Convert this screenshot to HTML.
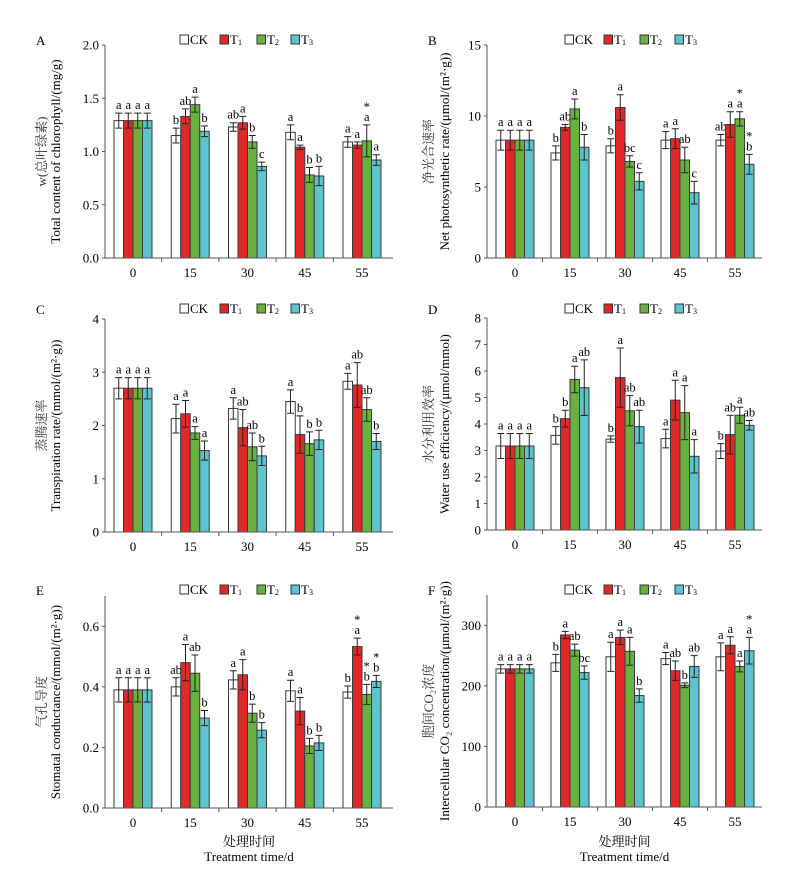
<!DOCTYPE html>
<html><head><meta charset="utf-8">
<style>
body{margin:0;background:#fff;}
svg{display:block;font-family:"Liberation Serif","Noto Serif CJK SC",serif;}
</style></head>
<body>
<svg id="chart" width="810" height="877" viewBox="0 0 810 877" xmlns="http://www.w3.org/2000/svg"></svg>
<script>
const categories = ["0","15","30","45","55"];
const seriesNames = ["CK","T1","T2","T3"];

const A_means = [[1.29,1.15,1.23,1.18,1.09],[1.29,1.33,1.27,1.04,1.06],[1.29,1.44,1.09,0.78,1.10],[1.29,1.19,0.86,0.77,0.92]];
const A_errs  = [[0.07,0.07,0.04,0.07,0.05],[0.07,0.07,0.06,0.02,0.03],[0.07,0.07,0.06,0.07,0.15],[0.07,0.05,0.04,0.09,0.05]];
const A_lets  = [["a","b","ab","a","a"],["a","ab","a","a","a"],["a","a","b","b","*a"],["a","b","c","b","a"]];
const A_ticks = ["0.0","0.5","1.0","1.5","2.0"];

const B_means = [[8.3,7.4,7.9,8.3,8.3],[8.3,9.2,10.6,8.4,9.4],[8.3,10.5,6.8,6.9,9.8],[8.3,7.8,5.4,4.6,6.6]];
const B_errs  = [[0.7,0.5,0.5,0.6,0.4],[0.7,0.2,0.9,0.7,0.9],[0.7,0.7,0.4,0.9,0.5],[0.7,0.9,0.6,0.8,0.7]];
const B_lets  = [["a","b","b","a","ab"],["a","ab","a","a","a"],["a","a","bc","ab","*a"],["a","b","c","c","*b"]];
const B_ticks = ["0","5","10","15"];

const C_means = [[2.7,2.13,2.32,2.45,2.83],[2.7,2.22,1.96,1.83,2.76],[2.7,1.86,1.6,1.66,2.3],[2.7,1.53,1.43,1.73,1.7]];
const C_errs  = [[0.2,0.27,0.2,0.22,0.15],[0.2,0.25,0.34,0.35,0.42],[0.2,0.12,0.26,0.22,0.22],[0.2,0.18,0.18,0.18,0.15]];
const C_lets  = [["a","a","a","a","a"],["a","a","ab","b","ab"],["a","a","ab","b","ab"],["a","a","b","b","b"]];
const C_ticks = ["0","1","2","3","4"];

const D_means = [[3.17,3.57,3.43,3.45,2.98],[3.17,4.2,5.75,4.9,3.6],[3.17,5.68,4.5,4.43,4.33],[3.17,5.37,3.9,2.78,3.95]];
const D_errs  = [[0.47,0.33,0.12,0.35,0.28],[0.47,0.32,1.12,0.75,0.73],[0.47,0.5,0.57,1.02,0.3],[0.47,1.05,0.62,0.63,0.18]];
const D_lets  = [["a","b","b","a","b"],["a","b","a","a","ab"],["a","a","ab","a","a"],["a","ab","ab","a","ab"]];
const D_ticks = ["0","1","2","3","4","5","6","7","8"];

const E_means = [[0.39,0.40,0.423,0.387,0.383],[0.39,0.48,0.44,0.32,0.533],[0.39,0.445,0.313,0.205,0.375],[0.39,0.297,0.257,0.215,0.418]];
const E_errs  = [[0.04,0.03,0.03,0.035,0.02],[0.04,0.06,0.05,0.045,0.028],[0.04,0.06,0.03,0.025,0.033],[0.04,0.025,0.025,0.025,0.02]];
const E_lets  = [["a","ab","a","a","b"],["a","a","a","a","*a"],["a","ab","b","b","*b"],["a","b","b","b","*b"]];
const E_ticks = ["0.0","0.2","0.4","0.6"];

const F_means = [[228,238,248,245,248],[228,284,280,225,267],[228,259,257,201,232],[228,222,184,232,258]];
const F_errs  = [[7,14,24,10,23],[7,6,12,16,14],[7,10,23,4,9],[7,11,11,18,22]];
const F_lets  = [["a","b","a","a","a"],["a","a","a","ab","a"],["a","ab","a","b","a"],["a","bc","b","ab","*a"]];
const F_ticks = ["0","100","200","300"];

const colors = ["#ffffff","#e3282a","#69b23f","#5cc3cf"];
const NS = "http://www.w3.org/2000/svg";
const svg = document.getElementById("chart");
function mk(tag, attrs, parent){const e=document.createElementNS(NS,tag);for(const k in attrs)e.setAttribute(k,attrs[k]);(parent||svg).appendChild(e);return e;}

const panels = [
 {id:"A",means:A_means,errs:A_errs,lets:A_lets,ticks:A_ticks,max:2.0,tickStep:0.5,x0:105,x1:393,yTop:45,y0:258,step:57.25,letX:36,letY:45,legX:[180,220,257,291],yt:["w(总叶绿素)","Total content of chlorophyll/(mg/g)"],ytX:[46,60]},
 {id:"B",means:B_means,errs:B_errs,lets:B_lets,ticks:B_ticks,max:15,tickStep:5,x0:487,x1:762,yTop:45,y0:258,step:55,letX:428,letY:45,legX:[565,604,640,675],yt:["净光合速率","Net photosynthetic rate/(μmol/(m²·g))"],ytX:[433,449]},
 {id:"C",means:C_means,errs:C_errs,lets:C_lets,ticks:C_ticks,max:4,tickStep:1,x0:105,x1:393,yTop:319,y0:532,step:57.25,letX:36,letY:314,legX:[180,220,257,291],yt:["蒸腾速率","Transpiration rate/(mmol/(m²·g))"],ytX:[46,60]},
 {id:"D",means:D_means,errs:D_errs,lets:D_lets,ticks:D_ticks,max:8,tickStep:1,x0:487,x1:762,yTop:318,y0:530,step:55,letX:428,letY:314,legX:[565,604,640,675],yt:["水分利用效率","Water use efficiency/(μmol/mmol)"],ytX:[433,449]},
 {id:"E",means:E_means,errs:E_errs,lets:E_lets,ticks:E_ticks,max:0.7,tickStep:0.2,x0:105,x1:393,yTop:596,y0:808,step:57.25,letX:36,letY:595,legX:[180,220,257,291],yt:["气孔导度","Stomatal conductance/(mmol/(m²·g))"],ytX:[46,60],xt:true},
 {id:"F",means:F_means,errs:F_errs,lets:F_lets,ticks:F_ticks,max:350,tickStep:100,x0:487,x1:762,yTop:595,y0:807,step:55,letX:428,letY:595,legX:[565,604,640,675],yt:["胞间CO₂浓度","Intercellular CO₂ concentration/(μmol/(m²·g))"],ytX:[433,449],xt:true}
];

panels.forEach(p=>{
  const g = mk("g",{});
  
  
  const yS = v => p.y0 - v/p.max*(p.y0-p.yTop);
  const gx = i => p.x0 + 28 + i*p.step;
  const bw = 9.5;
  const L = mk("text",{x:p.letX,y:p.letY,"font-size":13},g); L.textContent=p.id;
  
  
  const lg = mk("g",{},g);
  
  
  seriesNames.forEach((n,k)=>{
    const e = mk("g",{},lg);
    
    
    mk("rect",{x:p.legX[k],y:p.letY-10,width:8.5,height:9,fill:colors[k],stroke:"#333","stroke-width":1},e);
    const t = mk("text",{x:p.legX[k]+10,y:p.letY-1,"font-size":13},e);
    if(k===0){t.textContent="CK";}
    else{t.textContent="T"; const s=mk("tspan",{"font-size":8,dy:1},t); s.textContent=String(k);}
  });
  for(let k=0;k<4;k++){
    for(let i=0;i<categories.length;i++){
      const v = p.means[k][i], er = p.errs[k][i];
      const cx = gx(i) - 2*bw + k*bw;
      const r = mk("rect",{x:cx,y:yS(v),width:bw,height:p.y0-yS(v),fill:colors[k],stroke:"#3a3a3a","stroke-width":1},g);
      
      
      const mx = cx+bw/2, yt=yS(v+er), yb=yS(v-er);
      const eb = mk("path",{d:`M${mx},${yb}V${yt}M${mx-3.5},${yt}H${mx+3.5}M${mx-3.5},${yb}H${mx+3.5}`,stroke:"#222","stroke-width":1,fill:"none"},g);
      
      
      const lt = p.lets[k][i];
      const star = lt.startsWith("*"), core = star?lt.slice(1):lt;
      const t = mk("text",{x:mx,y:yt-4,"font-size":12.5,"text-anchor":"middle"},g); t.textContent=core;
      
      
      if(star){const s=mk("text",{x:mx,y:yt-14,"font-size":12.5,"text-anchor":"middle"},g); s.textContent="*";
        
        }
    }
  }
  const ax = mk("path",{d:`M${p.x0},${p.yTop}V${p.y0}H${p.x1}`,stroke:"#555","stroke-width":1,fill:"none"},g);
  
  
  p.ticks.forEach((lab,j)=>{
    const y = yS(j*p.tickStep);
    mk("line",{x1:p.x0-3,x2:p.x0,y1:y,y2:y,stroke:"#555"},g);
    const t = mk("text",{x:p.x0-6,y:y+4.5,"font-size":13,"text-anchor":"end"},g); t.textContent=lab;
    
    
  });
  for(let i=0;i<categories.length;i++){
    if(i>0){const bx=(gx(i)+gx(i-1))/2; mk("line",{x1:bx,x2:bx,y1:p.y0,y2:p.y0+4,stroke:"#555"},g);}
    const t = mk("text",{x:gx(i),y:p.y0+19,"font-size":13,"text-anchor":"middle"},g); t.textContent=categories[i];
    
    
  }
  const cy = (p.yTop+p.y0)/2;
  p.yt.forEach((s,j)=>{
    const t = mk("text",{x:p.ytX[j],y:cy,"font-size":13,"text-anchor":"middle",transform:`rotate(-90 ${p.ytX[j]} ${cy})`,fill:j===0?"#333":"#000"},g);
    t.textContent=s;
    
    
  });
  if(p.xt){
    const mxp=(p.x0+p.x1)/2;
    const t1=mk("text",{x:mxp,y:846,"font-size":13,"text-anchor":"middle"},g); t1.textContent="处理时间";
    
    
    const t2=mk("text",{x:mxp,y:861,"font-size":13,"text-anchor":"middle"},g); t2.textContent="Treatment time/d";
    
    
  }
});
</script>
</body></html>
